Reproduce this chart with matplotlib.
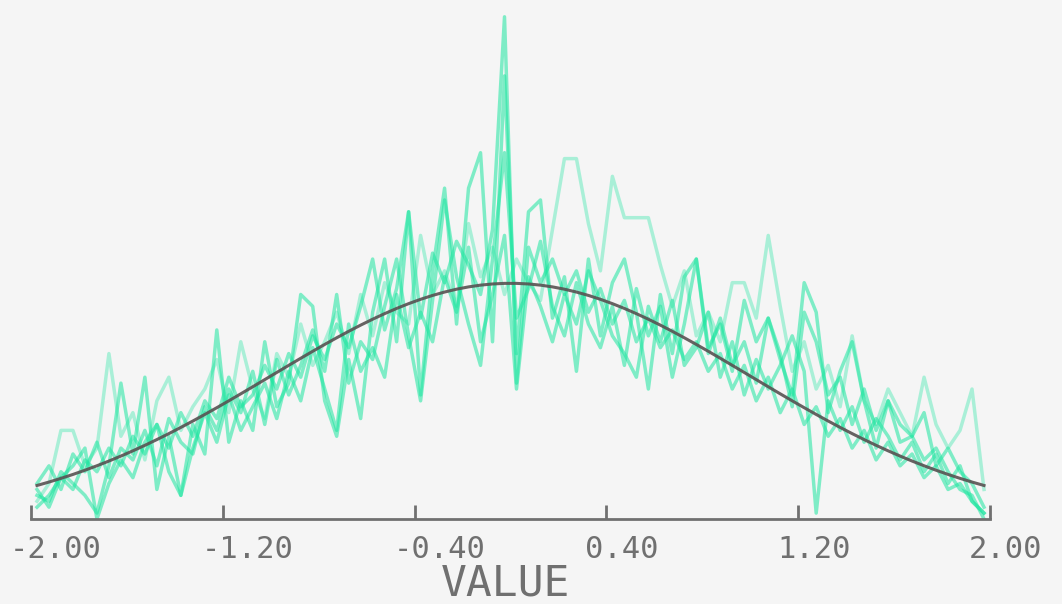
import matplotlib
matplotlib.use("Agg")
import matplotlib.pyplot as plt
import numpy as np

# histogram bins: 80 bins of width 0.05 between -2 and 2
bin_lo, bin_hi, n_bins = -2.0, 2.0, 80
n_samples = 2000

# counts per bin for each run
run_a = [3, 6, 15, 15, 9, 12, 28, 14, 18, 10,
         20, 24, 15, 19, 22, 27, 18, 30, 22, 17,
         28, 24, 33, 26, 30, 35, 28, 38, 31, 40,
         35, 33, 48, 38, 42, 36, 50, 41, 46, 38,
         44, 40, 37, 49, 61, 61, 50, 42, 58, 51,
         51, 51, 43, 36, 42, 31, 35, 30, 40, 40,
         34, 48, 36, 25, 30, 22, 26, 19, 31, 20,
         16, 22, 18, 14, 24, 16, 12, 15, 22, 5]
run_b = [2, 4, 7, 5, 10, 8, 12, 9, 14, 11,
         16, 12, 18, 14, 20, 17, 24, 19, 21, 26,
         22, 28, 24, 31, 27, 33, 29, 36, 44, 32,
         39, 52, 34, 45, 40, 47, 43, 38, 49, 85,
         23, 46, 40, 44, 38, 42, 35, 39, 33, 37,
         30, 34, 29, 32, 27, 30, 25, 28, 22, 26,
         20, 24, 18, 22, 16, 19, 14, 17, 12, 15,
         10, 13, 9, 11, 7, 9, 5, 6, 3, 1]
run_c = [4, 3, 8, 6, 4, 1, 9, 23, 11, 24,
         5, 14, 4, 16, 11, 32, 13, 20, 15, 30,
         19, 23, 38, 36, 20, 14, 27, 17, 35, 44,
         30, 52, 21, 42, 56, 33, 56, 62, 30, 75,
         28, 52, 54, 34, 41, 25, 44, 31, 40, 44,
         35, 22, 38, 28, 41, 44, 29, 33, 25, 37,
         30, 34, 27, 21, 40, 35, 18, 25, 30, 20,
         12, 20, 16, 14, 18, 9, 12, 8, 6, 2]
run_d = [6, 9, 5, 11, 8, 13, 7, 12, 10, 15,
         9, 17, 13, 11, 19, 15, 22, 18, 25, 16,
         27, 21, 26, 32, 25, 38, 23, 30, 27, 36,
         44, 31, 20, 37, 54, 41, 33, 26, 44, 62,
         34, 39, 47, 36, 31, 40, 33, 29, 36, 26,
         39, 31, 36, 24, 33, 44, 28, 34, 26, 30,
         23, 34, 28, 19, 35, 30, 21, 24, 16, 22,
         15, 20, 13, 14, 10, 12, 8, 5, 4, 0]
run_e = [5, 2, 7, 9, 12, 0, 6, 10, 7, 13,
         16, 8, 4, 12, 18, 13, 21, 15, 19, 23,
         17, 25, 20, 29, 22, 15, 33, 25, 29, 24,
         38, 29, 35, 30, 41, 35, 46, 30, 38, 48,
         22, 41, 36, 30, 38, 33, 42, 37, 31, 28,
         24, 36, 30, 37, 26, 29, 35, 24, 30, 21,
         27, 22, 26, 31, 25, 1, 20, 15, 19, 13,
         17, 14, 10, 13, 8, 11, 6, 9, 3, 1]

tick_vals = [-2.0, -1.2, -0.4, 0.4, 1.2, 2.0]
tick_text = ["-2.00", "-1.20", "-0.40", "0.40", "1.20", "2.00"]

width = (bin_hi - bin_lo) / n_bins
centers = bin_lo + width / 2 + width * np.arange(n_bins)
# expected counts from the standard normal
expected = n_samples * width * np.exp(-centers ** 2 / 2) / np.sqrt(2 * np.pi)

bg = "#f5f5f5"
green = "#1de6a0"
grey = "#707070"

fig = plt.figure(figsize=(10.62, 6.04), dpi=100, facecolor=bg)
ax = fig.add_axes([31 / 1062, 85 / 604, 959 / 1062, 514 / 604])
ax.set_facecolor(bg)

ax.plot(centers, run_a, color=green, alpha=0.35, lw=2.5)
for run in [run_b, run_c, run_d, run_e]:
    ax.plot(centers, run, color=green, alpha=0.55, lw=2.5)
ax.plot(centers, expected, color="#585252", lw=2.2, alpha=0.9)

ax.set_xlim(bin_lo, bin_hi)
ax.set_ylim(0, 87)
for s in ["left", "right", "top"]:
    ax.spines[s].set_visible(False)
ax.spines["bottom"].set_color(grey)
ax.spines["bottom"].set_linewidth(2)
ax.spines["bottom"].set_bounds(bin_lo, bin_hi)
ax.set_yticks([])
ax.set_xticks(tick_vals)
ax.set_xticklabels([])
ax.tick_params(axis="x", direction="in", length=10, width=2, color=grey)

# labels start one character left of the tick
for v, t in zip(tick_vals, tick_text):
    ax.annotate(t, xy=(v, 0), xytext=(-21, -16), textcoords="offset pixels",
                ha="left", va="top", fontsize=22, color=grey,
                family="DejaVu Sans Mono", annotation_clip=False)

fig.text(505 / 1062, 1 - 562 / 604, "VALUE", ha="center", va="top",
         fontsize=31, color=grey, family="DejaVu Sans Mono")

fig.savefig("out.png", dpi=100, facecolor=bg)
